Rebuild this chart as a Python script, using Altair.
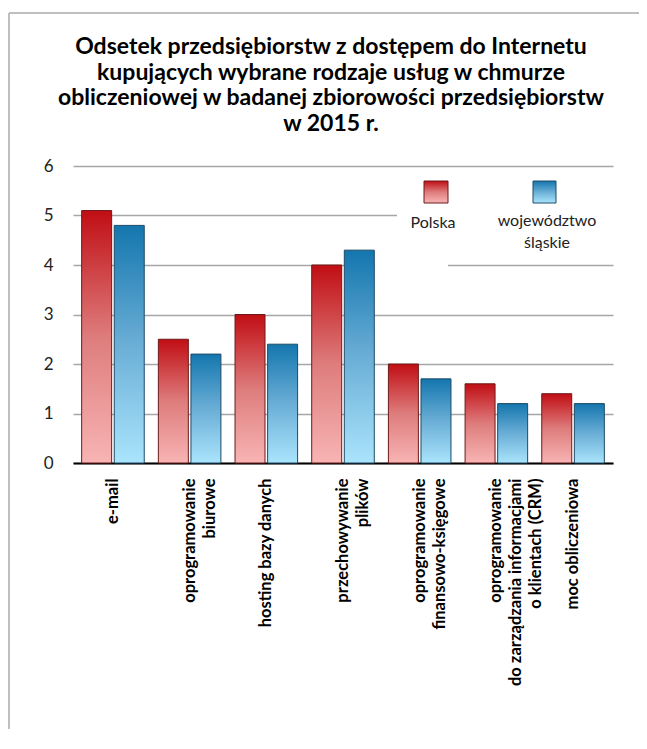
import altair as alt
import pandas as pd

categories = [
    "e-mail",
    "oprogramowanie|biurowe",
    "hosting bazy danych",
    "przechowywanie|plików",
    "oprogramowanie|finansowo-księgowe",
    "oprogramowanie|do zarządzania informacjami|o klientach (CRM)",
    "moc obliczeniowa",
]
series = ["Polska", "województwo śląskie"]
polska = [5.1, 2.5, 3.0, 4.0, 2.0, 1.6, 1.4]
slaskie = [4.8, 2.2, 2.4, 4.3, 1.7, 1.2, 1.2]
y_ticks = [0, 1, 2, 3, 4, 5, 6]
title_lines = [
    "Odsetek przedsiębiorstw z dostępem do Internetu",
    "kupujących wybrane rodzaje usług w chmurze",
    "obliczeniowej w badanej zbiorowości przedsiębiorstw",
    "w 2015 r.",
]

rows = []
for c, p, s in zip(categories, polska, slaskie):
    rows.append({"cat": c, "series": series[0], "value": p})
    rows.append({"cat": c, "series": series[1], "value": s})
df = pd.DataFrame(rows)

FONT = "Lato"

red_grad = alt.LinearGradient(
    gradient="linear", x1=0, y1=0, x2=0, y2=1,
    stops=[alt.GradientStop(offset=0, color="#C00E14"),
           alt.GradientStop(offset=0.5, color="#DE7C7C"),
           alt.GradientStop(offset=1, color="#F8B4B4")],
)
blue_grad = alt.LinearGradient(
    gradient="linear", x1=0, y1=0, x2=0, y2=1,
    stops=[alt.GradientStop(offset=0, color="#1476AE"),
           alt.GradientStop(offset=0.5, color="#6AAED6"),
           alt.GradientStop(offset=1, color="#AAE4FC")],
)

x_enc = alt.X(
    "cat:N", sort=categories, title=None,
    scale=alt.Scale(paddingInner=0.184, paddingOuter=0.113),
    axis=alt.Axis(
        labelAngle=270, labelExpr="split(datum.label, '|')",
        labelFont=FONT, labelFontSize=16.5, labelFontWeight="bold",
        labelColor="black", labelLineHeight=20, labelPadding=15,
        labelLimit=400, ticks=False, domainColor="black", domainWidth=2,
        grid=False,
    ),
)
xoff_enc = alt.XOffset(
    "series:N", scale=alt.Scale(domain=series, paddingInner=0.08, paddingOuter=0)
)
y_enc = alt.Y(
    "value:Q", title=None,
    scale=alt.Scale(domain=[0, 6], nice=False),
    axis=alt.Axis(
        values=y_ticks, labelFont=FONT, labelFontSize=17, labelColor="#222222",
        labelPadding=20, ticks=False, domain=False,
        gridColor="#A6A6A6", gridWidth=1.5,
    ),
)

base = alt.Chart(df)
bars_pl = base.transform_filter(alt.datum.series == series[0]).mark_bar(
    fill=red_grad, stroke="#6B1A1A", strokeWidth=1
).encode(x=x_enc, xOffset=xoff_enc, y=y_enc)
bars_sl = base.transform_filter(alt.datum.series == series[1]).mark_bar(
    fill=blue_grad, stroke="#1E4A66", strokeWidth=1
).encode(x=x_enc, xOffset=xoff_enc, y=y_enc)

one = alt.Chart(pd.DataFrame({"a": [0]}))

legend_bg = one.mark_rect(fill="white").encode(
    x=alt.value(324), x2=alt.value(541), y=alt.value(6), y2=alt.value(92)
)
legend_gap = one.mark_rect(fill="white").encode(
    x=alt.value(302), x2=alt.value(375), y=alt.value(95), y2=alt.value(101)
)
leg_red = one.mark_rect(fill=red_grad, stroke="#6B1A1A", strokeWidth=1).encode(
    x=alt.value(351), x2=alt.value(375), y=alt.value(15), y2=alt.value(37)
)
leg_blue = one.mark_rect(fill=blue_grad, stroke="#1E4A66", strokeWidth=1).encode(
    x=alt.value(460), x2=alt.value(483), y=alt.value(15), y2=alt.value(37)
)
leg_txt1 = one.mark_text(
    text="Polska", font=FONT, fontSize=16, color="#222222", align="center", baseline="middle"
).encode(x=alt.value(360), y=alt.value(57))
leg_txt2 = one.mark_text(
    text=["województwo", "śląskie"], font=FONT, fontSize=16, color="#222222",
    align="center", baseline="top", lineHeight=22,
).encode(x=alt.value(474), y=alt.value(47))

title_txt = one.mark_text(
    text=title_lines, font=FONT, fontSize=23, fontWeight="bold", color="black",
    align="center", baseline="alphabetic", lineHeight=25.5,
).encode(x=alt.value(258), y=alt.value(-112))

border_top = one.mark_rule(color="#BFBFBF", strokeWidth=2).encode(
    x=alt.value(-64), x2=alt.value(566), y=alt.value(-153)
)
border_left = one.mark_rule(color="#BFBFBF", strokeWidth=2).encode(
    x=alt.value(-64), y=alt.value(-153), y2=alt.value(600)
)

chart = alt.layer(
    border_top, border_left, legend_bg, legend_gap, bars_pl, bars_sl,
    leg_red, leg_blue, leg_txt1, leg_txt2, title_txt,
).properties(
    width=540, height=297,
    autosize=alt.AutoSizeParams(type="none"),
    padding={"left": 65, "top": 158, "right": 26, "bottom": 266},
).configure_view(stroke=None)

chart.save("out.html", embed_options={"renderer": "svg", "actions": False})
